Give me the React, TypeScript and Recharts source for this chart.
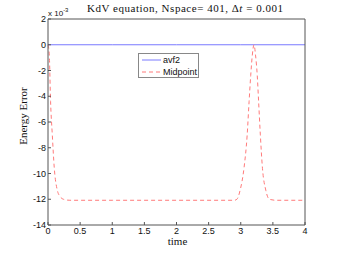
import React from 'react';
import { LineChart, Line, XAxis, YAxis, Legend } from 'recharts';

const TIME_AVF2 = [0, 1, 2, 3, 4];
const AVF2 = [0, 0, 0, 0, 0];

const TIME_MID = [0, 0.02, 0.04, 0.067, 0.098, 0.145, 0.19, 0.24, 0.34, 1.0, 2.0, 2.9, 2.94, 2.99, 3.05, 3.1, 3.13, 3.155, 3.18, 3.206, 3.23, 3.257, 3.278, 3.305, 3.338, 3.39, 3.445, 3.55, 4.0];
const MIDPOINT = [0, -0.8, -4.4, -7.0, -9.6, -11.3, -11.8, -12.0, -12.08, -12.08, -12.08, -12.08, -12.0, -11.3, -9.6, -7.0, -4.4, -2.4, -0.8, 0, -0.8, -2.4, -4.4, -7.0, -9.6, -11.3, -12.0, -12.08, -12.08];

const X_TICKS = [0, 0.5, 1, 1.5, 2, 2.5, 3, 3.5, 4];
const Y_TICKS = [-14, -12, -10, -8, -6, -4, -2, 0, 2];

const TITLE = 'KdV equation, Nspace= 401, ';
const X_LABEL = 'time';
const Y_LABEL = 'Energy Error';
const SERIES_NAMES = ['avf2', 'Midpoint'];

const avfData = TIME_AVF2.map((t, i) => ({ t, v: AVF2[i] }));
const midData = TIME_MID.map((t, i) => ({ t, v: MIDPOINT[i] }));

const AX = '#555';
const BLUE = '#7a7aff';
const RED = '#ff7a7a';
const SANS = 'Liberation Sans, Arial, sans-serif';
const SERIF = 'Liberation Serif, Times New Roman, serif';

const fmt = (v: number) => String(v);

const LegendBox = () => (
  <svg width={61} height={25} style={{ display: 'block' }}>
    <rect x={0.5} y={0.5} width={60} height={24} fill="#fff" stroke="#888" />
    <line x1={4} x2={23} y1={7} y2={7} stroke={BLUE} strokeWidth={1} />
    <text x={25} y={10.2} fontSize={9} fontFamily={SANS} fill="#111">{SERIES_NAMES[0]}</text>
    <line x1={4} x2={23} y1={19} y2={19} stroke={RED} strokeWidth={1} strokeDasharray="4 3" />
    <text x={25} y={22.2} fontSize={9} fontFamily={SANS} fill="#111">{SERIES_NAMES[1]}</text>
  </svg>
);

export default function App() {
  return (
    <div style={{ position: 'absolute', left: 0, top: 0, width: 337, height: 253, background: '#fff' }}>
      <LineChart width={337} height={253} margin={{ top: 18, right: 31, bottom: 0, left: 0 }}>
        <XAxis
          xAxisId="b"
          type="number"
          dataKey="t"
          domain={[0, 4]}
          ticks={X_TICKS}
          height={28}
          orientation="bottom"
          stroke={AX}
          tickSize={-3}
          tickMargin={6}
          tick={{ fontSize: 9, fontFamily: SANS, fill: '#111' }}
          tickFormatter={fmt}
          interval={0}
        />
        <XAxis
          xAxisId="t"
          type="number"
          domain={[0, 4]}
          ticks={X_TICKS}
          height={1}
          orientation="top"
          stroke={AX}
          tickSize={-3}
          tickFormatter={() => ''}
          interval={0}
        />
        <YAxis
          yAxisId="l"
          type="number"
          domain={[-14, 2]}
          ticks={Y_TICKS}
          width={48}
          orientation="left"
          stroke={AX}
          tickSize={-3}
          tickMargin={5}
          tick={{ fontSize: 9, fontFamily: SANS, fill: '#111' }}
          tickFormatter={fmt}
          interval={0}
        />
        <YAxis
          yAxisId="r"
          type="number"
          domain={[-14, 2]}
          ticks={Y_TICKS}
          width={1}
          orientation="right"
          stroke={AX}
          tickSize={-3}
          tickFormatter={() => ''}
          interval={0}
        />
        <Line xAxisId="b" yAxisId="l" data={avfData} dataKey="v" name={SERIES_NAMES[0]} type="linear" stroke={BLUE} strokeWidth={1} dot={false} isAnimationActive={false} />
        <Line xAxisId="b" yAxisId="l" data={midData} dataKey="v" name={SERIES_NAMES[1]} type="monotone" stroke={RED} strokeWidth={1} strokeDasharray="4 3" dot={false} isAnimationActive={false} />
        <Legend layout="horizontal" verticalAlign="middle" align="center" wrapperStyle={{ left: 138, top: 53, width: 61, height: 25 }} content={() => <LegendBox />} />
      </LineChart>
      <svg width={337} height={253} style={{ position: 'absolute', left: 0, top: 0, pointerEvents: 'none' }}>
        <text x={185} y={11.5} textAnchor="middle" fontSize={11} fontFamily={SERIF} fill="#111" textLength={196} lengthAdjust="spacing">
          {TITLE}Δ<tspan fontStyle="italic">t</tspan> = 0.001
        </text>
        <text x={48} y={16} fontSize={8} fontFamily={SANS} fill="#111">x 10<tspan dy={-4} fontSize={6}>-3</tspan></text>
        <text x={177.5} y={245} textAnchor="middle" fontSize={11} fontFamily={SERIF} fill="#111">{X_LABEL}</text>
        <text x={0} y={0} transform="translate(27,116) rotate(-90)" textAnchor="middle" fontSize={11} fontFamily={SERIF} fill="#111">{Y_LABEL}</text>
      </svg>
    </div>
  );
}
